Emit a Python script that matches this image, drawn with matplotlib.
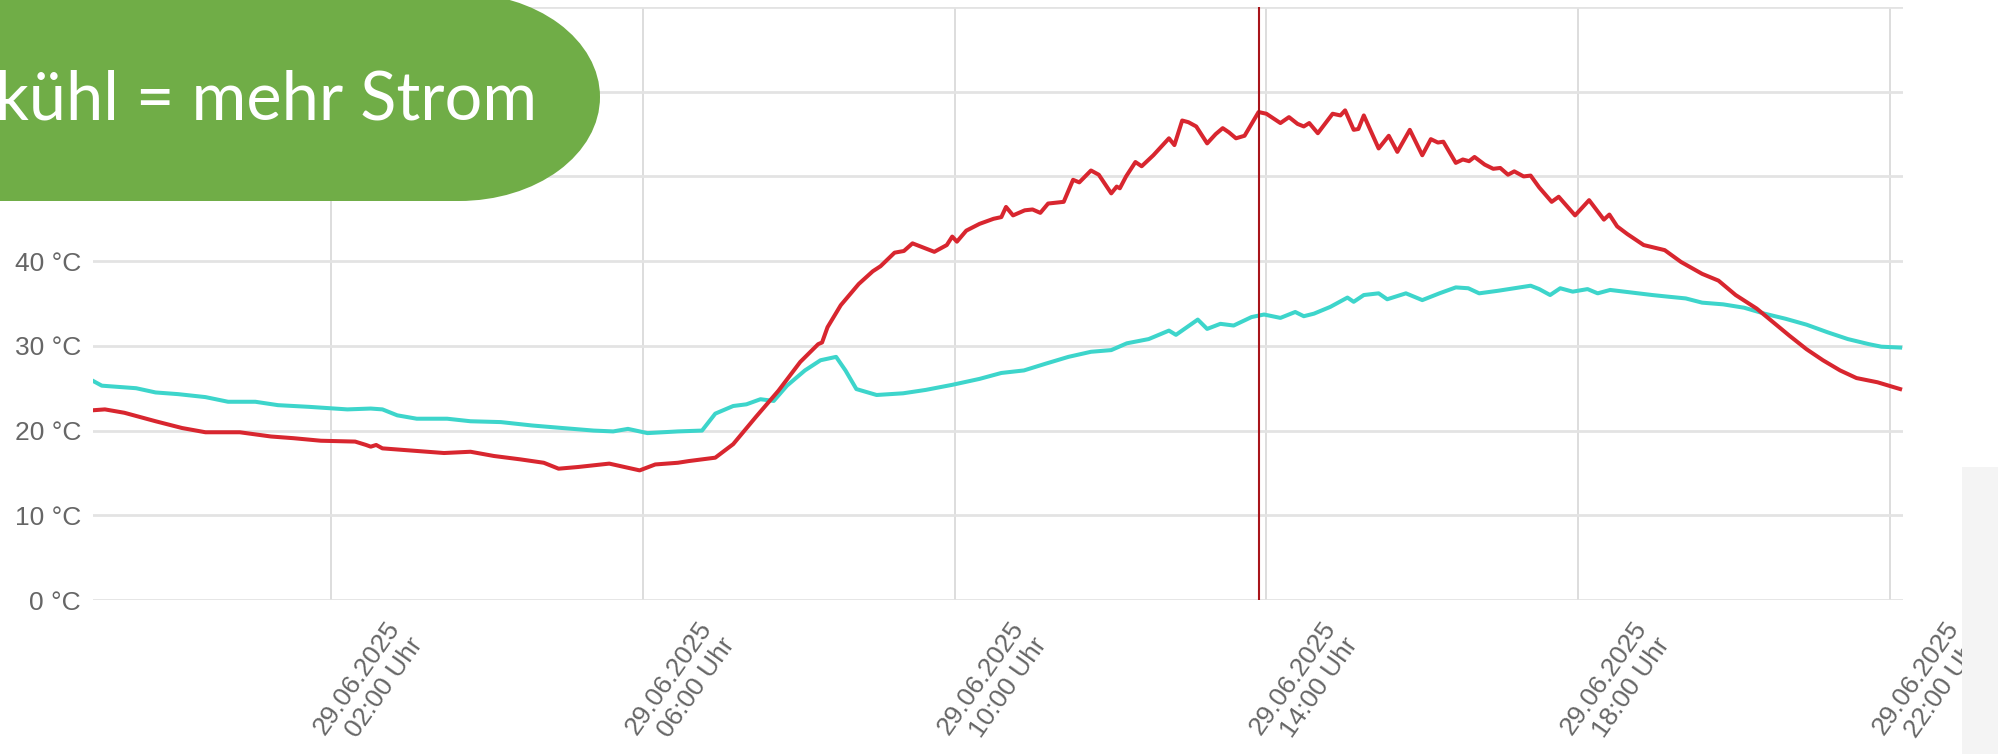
import matplotlib
matplotlib.use("Agg")
import matplotlib.pyplot as plt
from matplotlib.patches import Rectangle, Ellipse
from matplotlib.transforms import ScaledTranslation

# ---------------- data (hours relative to 29.06.2025 00:00) ----------------
t_rot = [-1.05, -0.90, -0.65, -0.25, 0.09, 0.39, 0.83, 1.23, 1.52, 1.87, 2.31, 2.45, 2.51, 2.58, 2.66,
         2.95, 3.45, 3.79, 4.09, 4.43, 4.73, 4.92, 5.17, 5.57, 5.96, 6.16, 6.45, 6.59, 6.93, 7.16,
         7.45, 7.74, 8.02, 8.25, 8.30, 8.37, 8.54, 8.77, 8.95, 9.05, 9.23, 9.35, 9.46, 9.60, 9.74,
         9.90, 9.97, 10.03, 10.15, 10.32, 10.50, 10.60, 10.66, 10.75, 10.90, 11.00, 11.10, 11.20,
         11.40, 11.52, 11.60, 11.75, 11.85, 12.01, 12.08, 12.12, 12.20, 12.32, 12.40, 12.55, 12.65,
         12.75, 12.82, 12.92, 13.00, 13.10, 13.24, 13.35, 13.44, 13.52, 13.61, 13.72, 13.90, 14.00,
         14.18, 14.29, 14.40, 14.48, 14.55, 14.66, 14.85, 14.95, 15.01, 15.12, 15.18, 15.25, 15.44,
         15.57, 15.68, 15.84, 16.00, 16.11, 16.20, 16.27, 16.43, 16.52, 16.60, 16.67, 16.80, 16.91,
         17.00, 17.10, 17.18, 17.30, 17.39, 17.50, 17.66, 17.75, 17.96, 18.14, 18.33, 18.40, 18.50,
         18.63, 18.84, 19.11, 19.32, 19.59, 19.80, 20.02, 20.29, 20.50, 20.71, 20.93, 21.14, 21.36,
         21.57, 21.84, 22.13]
temp_rot = [22.4, 22.5, 22.1, 21.1, 20.3, 19.8, 19.8, 19.3, 19.1, 18.8, 18.7, 18.3, 18.1, 18.3, 17.9,
            17.7, 17.35, 17.5, 17.0, 16.6, 16.2, 15.5, 15.7, 16.1, 15.3, 16.0, 16.2, 16.4, 16.8, 18.4,
            21.6, 24.7, 28.1, 30.2, 30.4, 32.2, 34.8, 37.3, 38.8, 39.4, 41.0, 41.2, 42.1, 41.6, 41.1,
            41.9, 42.9, 42.3, 43.6, 44.4, 45.0, 45.2, 46.4, 45.4, 46.0, 46.1, 45.7, 46.8,
            47.0, 49.6, 49.3, 50.7, 50.2, 48.0, 48.8, 48.6, 50.0, 51.7, 51.2, 52.5, 53.5,
            54.5, 53.7, 56.6, 56.4, 55.9, 53.9, 55.0, 55.7, 55.2, 54.5, 54.8, 57.6, 57.4,
            56.3, 57.0, 56.2, 55.9, 56.3, 55.1, 57.4, 57.2, 57.8, 55.5, 55.6, 57.2, 53.3,
            54.8, 52.9, 55.5, 52.5, 54.4, 54.0, 54.1, 51.6, 52.0, 51.8, 52.3, 51.4, 50.9,
            51.0, 50.2, 50.6, 50.0, 50.1, 48.7, 47.0, 47.6, 45.4, 47.2, 44.9, 45.5, 44.1,
            43.2, 41.9, 41.3, 39.9, 38.5, 37.7, 36.0, 34.4, 32.8, 31.2, 29.6, 28.3, 27.1,
            26.2, 25.7, 24.9]

t_tuerkis = [-1.05, -0.94, -0.50, -0.25, 0.04, 0.39, 0.68, 1.03, 1.32, 1.72, 2.21, 2.51, 2.66, 2.85,
             3.10, 3.49, 3.79, 4.18, 4.58, 4.97, 5.37, 5.62, 5.81, 6.06, 6.45, 6.76, 6.93, 7.16, 7.33,
             7.51, 7.68, 7.85, 8.08, 8.28, 8.48, 8.60, 8.74, 9.00, 9.34, 9.63, 9.97, 10.32, 10.60,
             10.89, 11.17, 11.46, 11.75, 12.01, 12.21, 12.49, 12.75, 12.84, 13.12, 13.24, 13.41,
             13.58, 13.81, 13.97, 14.18, 14.37, 14.48, 14.61, 14.82, 15.04, 15.12, 15.25, 15.44,
             15.55, 15.79, 16.00, 16.22, 16.43, 16.59, 16.73, 16.97, 17.18, 17.39, 17.50, 17.64,
             17.77, 17.93, 18.12, 18.25, 18.41, 18.68, 18.95, 19.16, 19.38, 19.59, 19.86, 20.13,
             20.39, 20.66, 20.93, 21.20, 21.46, 21.73, 21.89, 22.13]
temp_tuerkis = [25.85, 25.3, 25.0, 24.5, 24.3, 23.95, 23.4, 23.4, 23.0, 22.8, 22.5, 22.6, 22.5, 21.8,
                21.4, 21.4, 21.1, 21.0, 20.6, 20.3, 20.0, 19.9, 20.2, 19.7, 19.9, 20.0, 22.0, 22.9, 23.1,
                23.7, 23.5, 25.3, 27.1, 28.3, 28.7, 27.1, 24.9, 24.2, 24.4, 24.8, 25.4, 26.1, 26.8,
                27.1, 27.9, 28.7, 29.3, 29.5, 30.3, 30.8, 31.8, 31.3, 33.1, 32.0, 32.6,
                32.4, 33.4, 33.7, 33.3, 34.0, 33.5, 33.8, 34.6, 35.7, 35.2, 36.0, 36.2,
                35.5, 36.2, 35.4, 36.2, 36.9, 36.8, 36.2, 36.5, 36.8, 37.1, 36.7, 36.0,
                36.8, 36.4, 36.7, 36.2, 36.6, 36.3, 36.0, 35.8, 35.6, 35.1, 34.9, 34.5,
                33.8, 33.2, 32.5, 31.6, 30.8, 30.2, 29.9, 29.8]

markierung = 13.9  # vertical marker (approx. 13:54)

tick_stunden = [2, 6, 10, 14, 18, 22]
tick_labels = ["29.06.2025\n02:00 Uhr", "29.06.2025\n06:00 Uhr", "29.06.2025\n10:00 Uhr",
               "29.06.2025\n14:00 Uhr", "29.06.2025\n18:00 Uhr", "29.06.2025\n22:00 Uhr"]
y_ticks = [0, 10, 20, 30, 40, 50, 60, 70]
y_labels = ["0 °C", "10 °C", "20 °C", "30 °C", "40 °C", "50 °C", "60 °C", "70 °C"]
banner_text = "kühl = mehr Strom"

# ---------------- figure ----------------
W, H, DPI = 1998, 754, 100
fig = plt.figure(figsize=(W / DPI, H / DPI), dpi=DPI)
fig.patch.set_facecolor("white")

ax = fig.add_axes([93 / W, 1 - 600 / H, (1903 - 93) / W, (600 - 7) / H])
ax.set_xlim(-1.053, 22.167)
ax.set_ylim(0, 70)
for s in ax.spines.values():
    s.set_visible(False)

ax.set_yticks(y_ticks)
ax.set_yticklabels(y_labels, fontsize=19, color="#666666", family="Liberation Sans")
ax.tick_params(axis="y", length=0, pad=8.6)
ax.set_xticks(tick_stunden)
ax.set_xticklabels([])
ax.tick_params(axis="x", length=0)

ax.grid(axis="y", color="#e3e3e3", linewidth=2.0)
ax.grid(axis="x", color="#d3d3d3", linewidth=1.1)
ax.set_axisbelow(True)

# rotated two-line tick labels
for xs, lab in zip(tick_stunden, tick_labels):
    off = ScaledTranslation(54 / DPI, -17 / DPI, fig.dpi_scale_trans)
    ax.text(xs, 0, lab, transform=ax.get_xaxis_transform() + off,
            rotation=55, rotation_mode="anchor", ha="right", va="top",
            multialignment="right", fontsize=19, color="#666666",
            family="Liberation Sans", linespacing=1.2)

ax.plot(t_tuerkis, temp_tuerkis, color="#3dd5cb", linewidth=2.9, solid_joinstyle="round")
ax.plot(t_rot, temp_rot, color="#d8262f", linewidth=2.9, solid_joinstyle="round")
ax.axvline(markierung, color="#a8141a", linewidth=1.5)

# ---------------- overlay (pixel coordinates) ----------------
ov = fig.add_axes([0, 0, 1, 1])
ov.set_xlim(0, W)
ov.set_ylim(H, 0)
ov.set_axis_off()
ov.patch.set_visible(False)

green = "#70ad47"
ov.add_patch(Rectangle((1962, 467), W - 1962, H - 467, color="#f4f4f4", lw=0, zorder=0))
ov.add_patch(Rectangle((-20, -7), 459 + 20, 208, color=green, lw=0))
ov.add_patch(Ellipse((459, 97), 282, 208, color=green, lw=0))
ov.text(537, 119, banner_text, ha="right", va="baseline", color="white",
        fontsize=48, family="Lato")

fig.savefig("out.png", dpi=DPI)
